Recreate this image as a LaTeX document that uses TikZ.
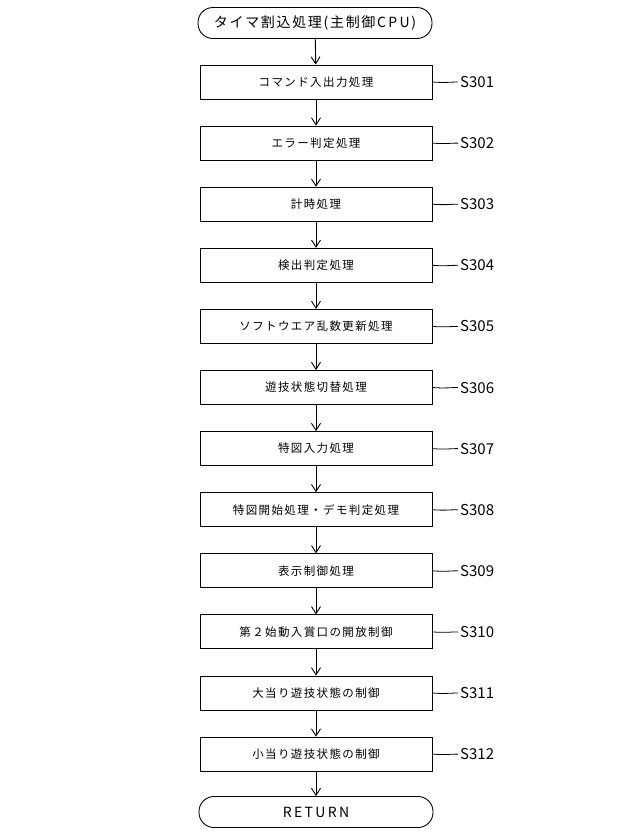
\documentclass[tikz,border=0pt]{standalone}
\usepackage{fontspec}
\setmainfont{Noto Sans CJK JP}[LetterSpace=12]
\usetikzlibrary{arrows.meta}
\tikzset{
  stepbox/.style={draw,line width=0.9pt,minimum width=232pt,minimum height=34pt,inner sep=0pt,font=\fontsize{11.5}{12}\selectfont},
  term/.style={draw,line width=0.9pt,rounded corners=15pt,minimum width=234pt,minimum height=31pt,inner sep=0pt},
  flow/.style={line width=0.9pt,-{Straight Barb[length=7pt,width=9pt]}},
  lbl/.style={anchor=west,font=\fontsize{15}{16}\selectfont\addfontfeature{LetterSpace=0},inner sep=0pt},
}
\begin{document}
\begin{tikzpicture}[x=1pt,y=-1pt]
\useasboundingbox (0,0) rectangle (640,836);
\node[term,font=\fontsize{14}{15}\selectfont] (start) at (315,23) {タイマ割込処理(主制御C\,P\,U)};
\def\labels{コマンド入出力処理,エラー判定処理,計時処理,検出判定処理,ソフトウエア乱数更新処理,遊技状態切替処理,特図入力処理,特図開始処理・デモ判定処理,表示制御処理,第２始動入賞口の開放制御,大当り遊技状態の制御,小当り遊技状態の制御}
\foreach [count=\i] \t in \labels {
  \pgfmathsetmacro{\yy}{82+(\i-1)*61.1}
  \node[stepbox] (b\i) at (316,\yy) {\t};
  \pgfmathtruncatemacro{\num}{300+\i}
  \coordinate (l\i) at (458,\yy);
  \draw[line width=0.8pt] (b\i.east) .. controls (445,\yy+1) and (450,\yy) .. (l\i);
  \node[lbl] (s\i) at (460,\yy) {S\num};
}
\node[term,font=\fontsize{14}{15}\selectfont] (end) at (316,812) {R\,E\,T\,U\,R\,N};
\draw[flow] (start) -- (b1);
\foreach \i [evaluate=\i as \j using int(\i+1)] in {1,...,11} \draw[flow] (b\i) -- (b\j);
\draw[flow] (b12) -- (end);
\end{tikzpicture}
\end{document}
